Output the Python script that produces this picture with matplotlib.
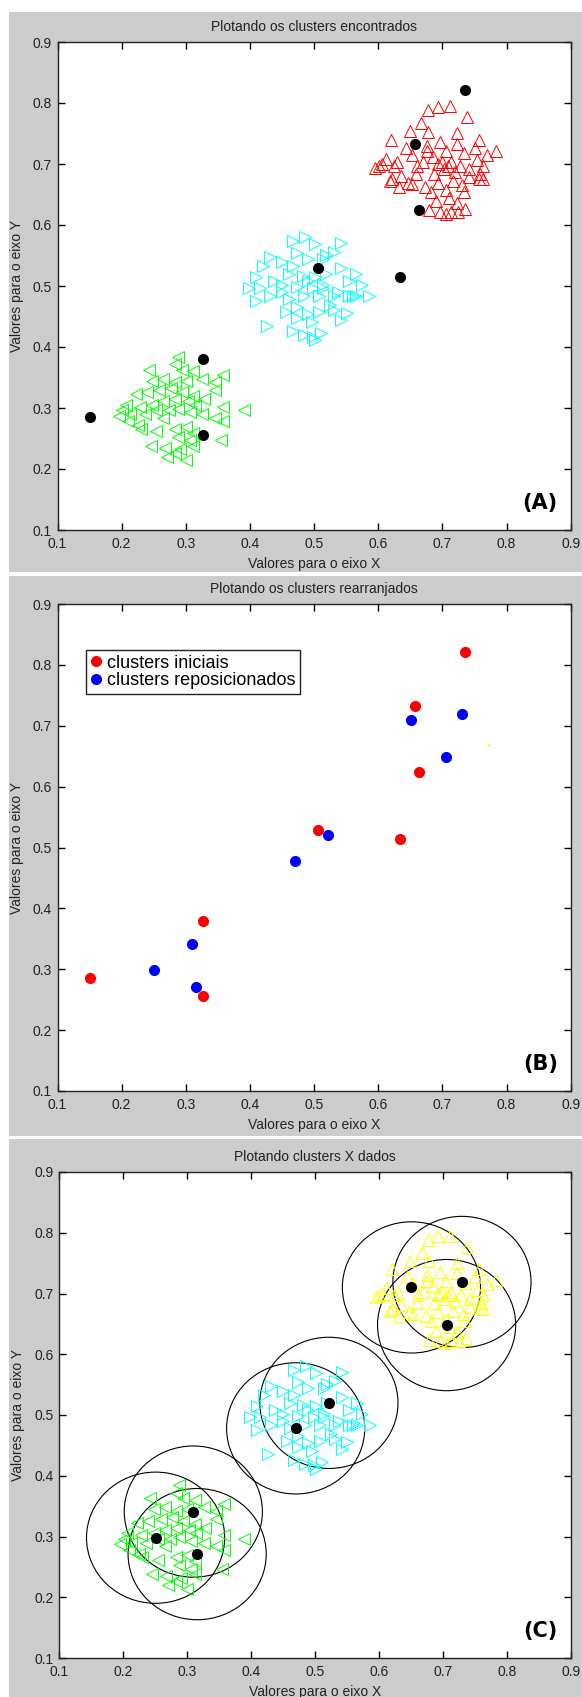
import matplotlib
matplotlib.use('Agg')
import matplotlib.pyplot as plt
from matplotlib.patches import Rectangle, Circle

# pontos dos clusters
red_x = [0.677, 0.693, 0.712, 0.738, 0.667, 0.649, 0.678, 0.620, 0.757, 0.722,
         0.644, 0.676, 0.696, 0.722, 0.783, 0.612, 0.601, 0.624, 0.653, 0.685,
         0.705, 0.734, 0.751, 0.769, 0.754, 0.606, 0.630, 0.670, 0.693, 0.713,
         0.728, 0.763, 0.621, 0.635, 0.659, 0.687, 0.702, 0.719, 0.742, 0.759,
         0.618, 0.647, 0.673, 0.693, 0.716, 0.731, 0.757, 0.682, 0.705, 0.734,
         0.690, 0.711, 0.722, 0.679, 0.696, 0.713, 0.736, 0.725, 0.705, 0.595,
         0.632, 0.653, 0.742, 0.763, 0.699, 0.708, 0.661, 0.676]
red_y = [0.788, 0.794, 0.795, 0.777, 0.767, 0.754, 0.753, 0.740, 0.740, 0.751,
         0.727, 0.730, 0.736, 0.733, 0.722, 0.709, 0.697, 0.697, 0.715, 0.712,
         0.721, 0.718, 0.727, 0.715, 0.706, 0.700, 0.703, 0.703, 0.700, 0.703,
         0.697, 0.697, 0.675, 0.681, 0.684, 0.684, 0.691, 0.687, 0.691, 0.684,
         0.672, 0.669, 0.663, 0.669, 0.672, 0.666, 0.675, 0.654, 0.657, 0.654,
         0.639, 0.645, 0.636, 0.624, 0.621, 0.621, 0.627, 0.621, 0.618, 0.694,
         0.663, 0.667, 0.678, 0.675, 0.703, 0.697, 0.697, 0.721]

cyan_x = [0.467, 0.486, 0.502, 0.542, 0.473, 0.519, 0.531, 0.432, 0.421, 0.450,
          0.467, 0.490, 0.514, 0.542, 0.566, 0.410, 0.438, 0.461, 0.482, 0.502,
          0.519, 0.554, 0.574, 0.398, 0.415, 0.450, 0.473, 0.499, 0.514, 0.537,
          0.560, 0.586, 0.410, 0.432, 0.461, 0.485, 0.508, 0.531, 0.554, 0.456,
          0.473, 0.490, 0.508, 0.531, 0.551, 0.542, 0.427, 0.467, 0.485, 0.499,
          0.511, 0.502, 0.496, 0.473, 0.450, 0.490, 0.514, 0.566, 0.525]
cyan_y = [0.574, 0.581, 0.569, 0.571, 0.554, 0.551, 0.556, 0.548, 0.533, 0.539,
          0.533, 0.545, 0.545, 0.530, 0.520, 0.514, 0.508, 0.520, 0.517, 0.514,
          0.520, 0.508, 0.502, 0.496, 0.496, 0.490, 0.499, 0.496, 0.496, 0.490,
          0.484, 0.484, 0.475, 0.484, 0.478, 0.484, 0.484, 0.484, 0.484, 0.457,
          0.448, 0.454, 0.457, 0.460, 0.455, 0.444, 0.435, 0.426, 0.420, 0.417,
          0.423, 0.411, 0.441, 0.466, 0.502, 0.508, 0.502, 0.484, 0.469]

green_x = [0.288, 0.283, 0.242, 0.294, 0.358, 0.312, 0.248, 0.265, 0.283, 0.300,
           0.326, 0.346, 0.222, 0.239, 0.259, 0.277, 0.294, 0.312, 0.346, 0.207,
           0.228, 0.248, 0.265, 0.283, 0.303, 0.314, 0.358, 0.390, 0.196, 0.213,
           0.236, 0.254, 0.274, 0.288, 0.306, 0.326, 0.346, 0.358, 0.225, 0.230,
           0.254, 0.283, 0.300, 0.312, 0.288, 0.306, 0.355, 0.245, 0.268, 0.291,
           0.312, 0.271, 0.300, 0.283, 0.210, 0.329, 0.265, 0.201]
green_y = [0.384, 0.372, 0.363, 0.363, 0.354, 0.360, 0.345, 0.348, 0.342, 0.345,
           0.348, 0.342, 0.323, 0.326, 0.329, 0.332, 0.326, 0.320, 0.329, 0.305,
           0.302, 0.305, 0.311, 0.314, 0.311, 0.305, 0.302, 0.296, 0.287, 0.290,
           0.290, 0.296, 0.296, 0.299, 0.293, 0.290, 0.284, 0.278, 0.272, 0.266,
           0.262, 0.266, 0.269, 0.259, 0.253, 0.247, 0.247, 0.238, 0.235, 0.232,
           0.238, 0.220, 0.214, 0.226, 0.278, 0.314, 0.284, 0.296]

# centros iniciais e reposicionados
init_x = [0.735, 0.658, 0.663, 0.506, 0.634, 0.327, 0.150, 0.327]
init_y = [0.821, 0.732, 0.624, 0.529, 0.514, 0.380, 0.285, 0.256]
repos_x = [0.651, 0.730, 0.706, 0.522, 0.470, 0.310, 0.251, 0.316]
repos_y = [0.710, 0.719, 0.648, 0.520, 0.478, 0.341, 0.298, 0.271]
stray_x = [0.773]
stray_y = [0.668]
radius = 0.108

ticks = [0.1, 0.2, 0.3, 0.4, 0.5, 0.6, 0.7, 0.8, 0.9]
tick_labels = ['0.1', '0.2', '0.3', '0.4', '0.5', '0.6', '0.7', '0.8', '0.9']

plt.rcParams['font.family'] = ['Liberation Sans', 'DejaVu Sans']
grey = '#cccccc'
W, H = 582, 1697
fig = plt.figure(figsize=(W / 100, H / 100), dpi=100)
fig.patch.set_facecolor('white')


def px_box(l, t, r, b):
    return [l / W, 1 - b / H, (r - l) / W, (b - t) / H]


for t, b in [(12, 572), (576, 1136), (1139, 1697)]:
    fig.add_artist(Rectangle((9 / W, 1 - b / H), 1, (b - t) / H,
                             transform=fig.transFigure, facecolor=grey,
                             edgecolor='none', zorder=-5))


def setup(ax, title, tag):
    ax.set_xlim(0.1, 0.9)
    ax.set_ylim(0.1, 0.9)
    ax.set_xticks(ticks)
    ax.set_xticklabels(tick_labels)
    ax.set_yticks(ticks)
    ax.set_yticklabels(tick_labels)
    ax.tick_params(direction='in', length=5, width=1, top=True, right=True,
                   labelsize=10, colors='black', labelcolor='#222222')
    ax.tick_params(axis='x', pad=5)
    ax.tick_params(axis='y', pad=4)
    for s in ax.spines.values():
        s.set_color('#222222')
        s.set_linewidth(1)
    ax.set_title(title, fontsize=10, pad=8, color='#222222')
    ax.set_xlabel('Valores para o eixo X', fontsize=10, color='#222222')
    ax.set_ylabel('Valores para o eixo Y', fontsize=10, color='#222222')
    bb = ax.get_position()
    wpx, hpx = bb.width * W, bb.height * H
    ax.xaxis.set_label_coords(0.5, -34 / hpx)
    ax.xaxis.label.set_va('center')
    ax.yaxis.set_label_coords(-40.5 / wpx, 0.5)
    ax.yaxis.label.set_va('center')
    ax.text(0.975, 0.055, tag, transform=ax.transAxes, ha='right', va='center',
            fontsize=15, fontweight='bold', family='DejaVu Sans', color='black')


tri = dict(linestyle='none', markersize=8, markerfacecolor='none', markeredgewidth=0.7)
dot = dict(linestyle='none', marker='o', markersize=7)

# (A)
axA = fig.add_axes(px_box(57.5, 42, 570.7, 530))
setup(axA, 'Plotando os clusters encontrados', '(A)')
axA.plot(red_x, red_y, marker='^', markeredgecolor='#ff0000', **tri)
axA.plot(cyan_x, cyan_y, marker='>', markeredgecolor='#00ffff', **tri)
axA.plot(green_x, green_y, marker='<', markeredgecolor='#00ff00', **tri)
axA.plot(init_x, init_y, color='black', **dot)

# (B)
axB = fig.add_axes(px_box(57.5, 604, 570.7, 1091))
setup(axB, 'Plotando os clusters rearranjados', '(B)')
axB.plot(init_x, init_y, color='#ff0000', label='clusters iniciais', **dot)
axB.plot(repos_x, repos_y, color='#0000ff', label='clusters reposicionados', **dot)
axB.plot(stray_x, stray_y, linestyle='none', marker='s', markersize=0.8, color='#ffff00')
leg = axB.legend(loc='upper left', bbox_to_anchor=(0.0556, 0.9055), fontsize=13,
                 frameon=True, fancybox=False, framealpha=1, edgecolor='#222222',
                 handlelength=0.6, handletextpad=0.3, borderpad=0.25,
                 labelspacing=0.05, borderaxespad=0, markerscale=1.0)
leg.get_frame().set_linewidth(1)

# (C)
axC = fig.add_axes(px_box(59, 1172, 570.7, 1658))
setup(axC, 'Plotando clusters X dados', '(C)')
axC.plot(red_x, red_y, marker='^', markeredgecolor='#ffff00', **tri)
axC.plot(cyan_x, cyan_y, marker='>', markeredgecolor='#00ffff', **tri)
axC.plot(green_x, green_y, marker='<', markeredgecolor='#00ff00', **tri)
for cx, cy in zip(repos_x, repos_y):
    axC.add_patch(Circle((cx, cy), radius, fill=False, edgecolor='black', linewidth=0.8))
axC.plot(repos_x, repos_y, color='black', **dot)

fig.savefig('out.png', dpi=100)
